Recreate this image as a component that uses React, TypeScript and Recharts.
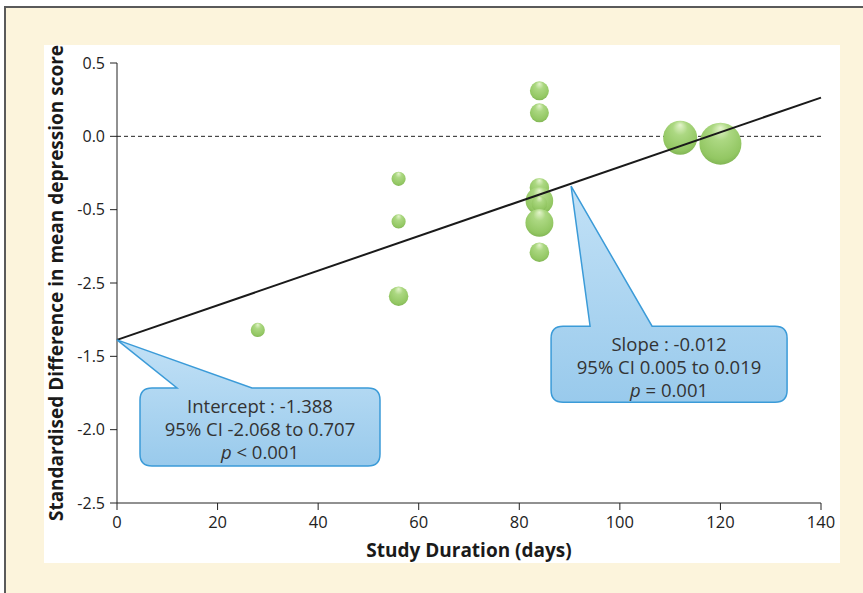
import { ScatterChart, Scatter, XAxis, YAxis, ZAxis, ReferenceLine, ReferenceDot } from "recharts";

// study duration (days), standardised difference, study size (bubble)
const durationDays = [28, 56, 56, 56, 84, 84, 84, 84, 84, 84, 84, 112, 120];
const effectSize = [-1.32, -0.29, -0.58, -1.09, 0.31, 0.16, -0.35, -0.44, -0.46, -0.59, -0.79, -0.01, -0.05];
const studySize = [50, 50, 50, 95, 90, 90, 95, 190, 60, 195, 95, 290, 440];

// meta-regression fit
const fitDays = [0, 140];
const fitValues = [-1.388, 0.264];

const xTicks = [0, 20, 40, 60, 80, 100, 120, 140];
const yTicks = [0.5, 0, -0.5, -1, -1.5, -2, -2.5];
const yTickLabels = ["0.5", "0.0", "-0.5", "-2.5", "-1.5", "-2.0", "-2.5"];

const interceptLines = ["Intercept : -1.388", "95% CI -2.068 to 0.707", "< 0.001"];
const slopeLines = ["Slope : -0.012", "95% CI 0.005 to 0.019", "= 0.001"];
const slopeAnchor = { x: 90.3, y: -0.34 };

const bubbles = durationDays.map((d, i) => ({ x: d, y: effectSize[i], n: studySize[i] }));
const fitData = fitDays.map((d, i) => ({ x: d, y: fitValues[i] }));

const FONT = "'Open Sans', 'Noto Sans', sans-serif";

function YLabel({ viewBox }: any) {
  const x = viewBox.x - 1;
  const y = viewBox.y + viewBox.height / 2;
  return (
    <text x={x} y={y} transform={`rotate(-90, ${x}, ${y})`} textAnchor="middle" dominantBaseline="central"
      fontFamily={FONT} fontWeight={700} fontSize={19} fill="#1a1a1a">
      Standardised Difference in mean depression score
    </text>
  );
}

function XLabel({ viewBox }: any) {
  return (
    <text x={viewBox.x + viewBox.width / 2} y={viewBox.y + 47} textAnchor="middle" dominantBaseline="central"
      fontFamily={FONT} fontWeight={700} fontSize={19} fill="#1a1a1a">
      Study Duration (days)
    </text>
  );
}

function Callout({ cx, cy, box, base, lines }: any) {
  const [dx0, dx1, dy0, dy1] = box;
  const x0 = cx + dx0, x1 = cx + dx1, y0 = cy + dy0, y1 = cy + dy1, r = 12;
  const d = `M${x0 + r},${y0} L${cx + base[0]},${y0} L${cx},${cy} L${cx + base[1]},${y0} L${x1 - r},${y0}
    Q${x1},${y0} ${x1},${y0 + r} L${x1},${y1 - r} Q${x1},${y1} ${x1 - r},${y1} L${x0 + r},${y1}
    Q${x0},${y1} ${x0},${y1 - r} L${x0},${y0 + r} Q${x0},${y0} ${x0 + r},${y0} Z`;
  const mid = (x0 + x1) / 2;
  return (
    <g>
      <path d={d} fill="url(#calloutFill)" stroke="#3b9bd8" strokeWidth={1.5} />
      <text fontFamily={FONT} fontSize={18.5} fill="#333" textAnchor="middle" dominantBaseline="central">
        <tspan x={mid} y={y0 + 17}>{lines[0]}</tspan>
        <tspan x={mid} y={y0 + 40}>{lines[1]}</tspan>
        <tspan x={mid} y={y0 + 63}>
          <tspan fontStyle="italic">p</tspan> {lines[2]}
        </tspan>
      </text>
    </g>
  );
}

export default function App() {
  return (
    <div style={{ position: "fixed", left: 0, top: 0, width: 863, height: 593, overflow: "hidden", background: "#fff" }}>
      <div style={{ position: "absolute", left: 4, top: 6, width: 900, height: 640, background: "#fcf4dc", border: "2px solid #5a5a5a" }} />
      <div style={{ position: "absolute", left: 44, top: 45, width: 796, height: 518, background: "#fff" }} />
      <div style={{ position: "absolute", left: 0, top: 0 }}>
        <ScatterChart width={863} height={593} margin={{ top: 63, right: 42, left: 57, bottom: 60 }}>
          <defs>
            <radialGradient id="bubbleFill" cx="50%" cy="38%" r="62%" fx="50%" fy="12%">
              <stop offset="0%" stopColor="#e4f4cc" />
              <stop offset="35%" stopColor="#acd882" />
              <stop offset="85%" stopColor="#93c763" />
              <stop offset="100%" stopColor="#82b655" />
            </radialGradient>
            <linearGradient id="calloutFill" x1="0" y1="0" x2="0" y2="1">
              <stop offset="0%" stopColor="#c2e1f6" />
              <stop offset="100%" stopColor="#99caec" />
            </linearGradient>
          </defs>
          <XAxis type="number" dataKey="x" domain={[0, 140]} ticks={xTicks} height={30}
            tickSize={7} tickMargin={6} stroke="#222" tick={{ fill: "#222", fontSize: 16.5, fontFamily: FONT }}
            label={<XLabel />} />
          <YAxis type="number" dataKey="y" domain={[-2.5, 0.5]} ticks={yTicks} width={60}
            tickSize={7} tickMargin={5} stroke="#222" tick={{ fill: "#222", fontSize: 16, fontFamily: FONT }}
            tickFormatter={(v: number) => yTickLabels[yTicks.indexOf(v)] ?? String(v)}
            label={<YLabel />} />
          <ZAxis type="number" dataKey="n" domain={[0, 440]} range={[0, 1385]} />
          <Scatter data={bubbles} fill="url(#bubbleFill)" isAnimationActive={false} />
          <ReferenceLine y={0} stroke="#222" strokeDasharray="4 3" strokeWidth={1} />
          <Scatter data={fitData} line={{ stroke: "#1a1a1a", strokeWidth: 2 }} shape={() => <g />}
            isAnimationActive={false} />
          <ReferenceDot x={fitDays[0]} y={fitValues[0]} ifOverflow="visible"
            shape={(p: any) => <Callout cx={p.cx} cy={p.cy} box={[23, 263, 48, 126]} base={[60, 135]} lines={interceptLines} />} />
          <ReferenceDot x={slopeAnchor.x} y={slopeAnchor.y} ifOverflow="visible"
            shape={(p: any) => <Callout cx={p.cx} cy={p.cy} box={[-20, 216, 140, 216]} base={[19, 81]} lines={slopeLines} />} />
        </ScatterChart>
      </div>
    </div>
  );
}
